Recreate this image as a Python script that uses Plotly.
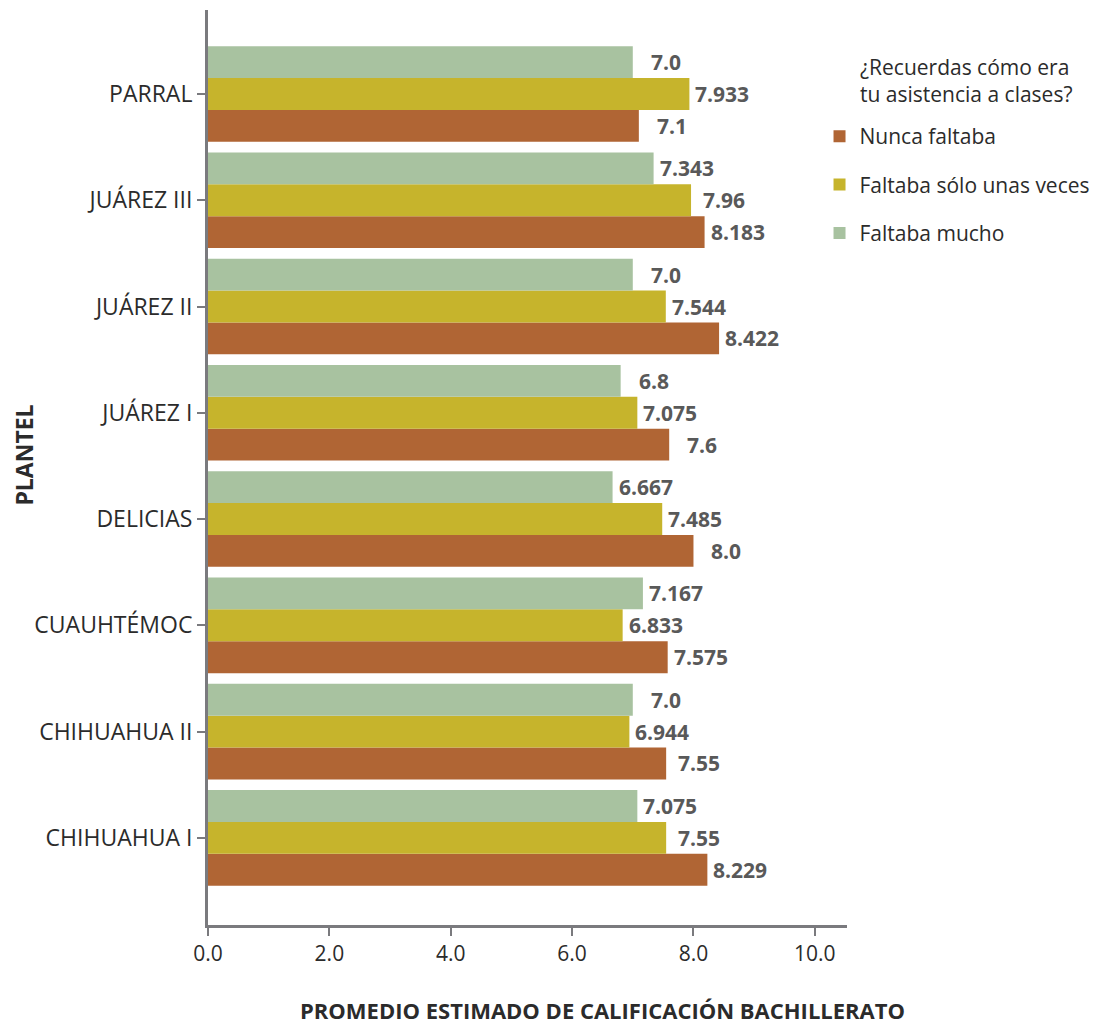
import plotly.graph_objects as go

planteles = ["CHIHUAHUA I", "CHIHUAHUA II", "CUAUHTÉMOC", "DELICIAS",
             "JUÁREZ I", "JUÁREZ II", "JUÁREZ III", "PARRAL"]
nunca = [8.229, 7.55, 7.575, 8.0, 7.6, 8.422, 8.183, 7.1]
pocas = [7.55, 6.944, 6.833, 7.485, 7.075, 7.544, 7.96, 7.933]
mucho = [7.075, 7.0, 7.167, 6.667, 6.8, 7.0, 7.343, 7.0]

series = [
    ("Nunca faltaba", nunca, "#B06534"),
    ("Faltaba sólo unas veces", pocas, "#C6B42C"),
    ("Faltaba mucho", mucho, "#A8C2A0"),
]

FONT = "Open Sans"
TXT = "#2b2b2b"
BARGAP = 0.1
n = len(series)
w = (1 - BARGAP) / n

fig = go.Figure()
annotations = []
for k, (name, vals, col) in enumerate(series):
    fig.add_trace(go.Bar(y=planteles, x=vals, name=name, orientation="h",
                         legendgroup=name,
                         marker=dict(color=col, line=dict(width=0))))
    off = (k - (n - 1) / 2) * w
    for i, v in enumerate(vals):
        annotations.append(dict(
            x=v, y=i + off, xref="x", yref="y", text="<b>%s</b>" % str(v),
            showarrow=False, xanchor="center", xshift=33,
            font=dict(family=FONT, size=21, color="#595959")))

# axis titles and legend title
annotations.append(dict(
    x=0.618, y=0, xref="paper", yref="paper", yshift=-85,
    text="<b>PROMEDIO ESTIMADO DE CALIFICACIÓN BACHILLERATO</b>",
    showarrow=False, xanchor="center", yanchor="middle",
    font=dict(family=FONT, size=22, color=TXT)))
annotations.append(dict(
    x=0, y=0.513, xref="paper", yref="paper", xshift=-184,
    text="<b>PLANTEL</b>", textangle=-90,
    showarrow=False, xanchor="center", yanchor="middle",
    font=dict(family=FONT, size=23, color=TXT)))
annotations.append(dict(
    x=1.0, y=0.955, xref="paper", yref="paper", xshift=11,
    text="¿Recuerdas cómo era<br>tu asistencia a clases?",
    showarrow=False, xanchor="left", yanchor="top", align="left",
    font=dict(family=FONT, size=21, color=TXT)))

fig.update_layout(
    width=1099, height=1023,
    barmode="group", bargap=BARGAP, bargroupgap=0,
    plot_bgcolor="white", paper_bgcolor="white",
    margin=dict(l=200, r=260, t=2, b=106),
    font=dict(family=FONT, size=20, color=TXT),
    annotations=annotations,
    legend=dict(
        x=0.957, xanchor="left", y=0.884, yanchor="top",
        font=dict(family=FONT, size=21, color=TXT),
        traceorder="grouped", itemclick=False,
        tracegroupgap=18,
    ),
    xaxis=dict(
        range=[0, 10.53], tickvals=[0, 2, 4, 6, 8, 10], tickformat=".1f",
        showgrid=False, zeroline=False, automargin=False,
        showline=True, linecolor="#7a7a7e", linewidth=3,
        ticks="outside", ticklen=8, tickwidth=2, tickcolor="#7a7a7e",
        tickfont=dict(family=FONT, size=21, color=TXT),
    ),
    yaxis=dict(
        type="category", categoryorder="array", categoryarray=planteles,
        range=[-0.82, 7.79], automargin=False,
        showgrid=False, zeroline=False,
        showline=True, linecolor="#7a7a7e", linewidth=3,
        ticks="outside", ticklen=8, tickwidth=2, tickcolor="#7a7a7e",
        ticklabelstandoff=0,
        tickfont=dict(family=FONT, size=23, color=TXT),
    ),
)

fig.write_html("out.html")
